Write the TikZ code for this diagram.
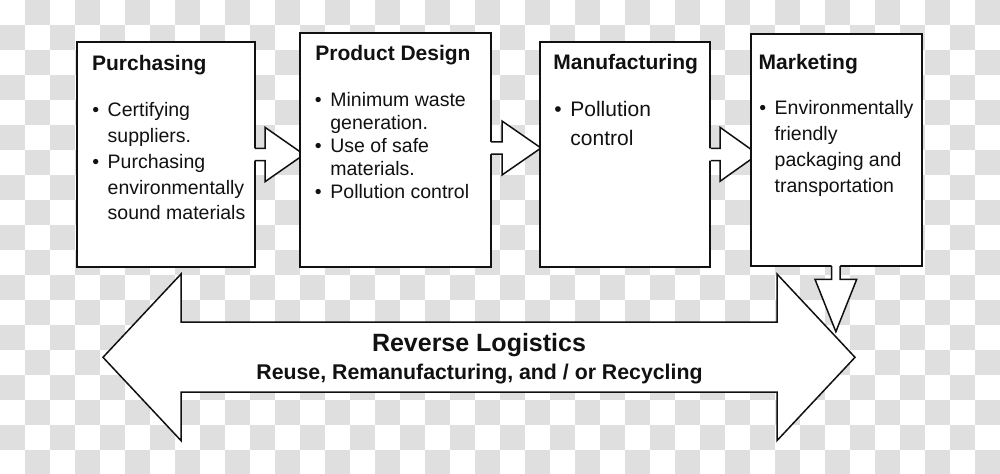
\documentclass[tikz,border=0pt]{standalone}
\usepackage{fontspec}
\setmainfont{Liberation Sans}
\definecolor{chk}{HTML}{DFDFDF}
\definecolor{ink}{HTML}{111111}
\newcommand\mybul{\llap{\textbullet\hspace{4.3pt}}}
\begin{document}
\begin{tikzpicture}[x=0.5pt,y=-0.5pt,
  box/.style={draw=ink, line width=1pt, fill=white, inner sep=0pt},
  blk/.style={draw=ink, line width=0.75pt, line join=miter},
  ttl/.style={font=\fontsize{10.5}{12}\selectfont\bfseries, anchor=base west, inner sep=0pt, text=ink},
  bodytxt/.style={anchor=base west, inner sep=0pt, text=ink},
]
\useasboundingbox (0,0) rectangle (1000,473);
\clip (0,0) rectangle (1000,473);
% transparency checkerboard
\fill[white] (0,0) rectangle (1000,473);
\foreach \j in {0,...,18}{\foreach \i in {0,...,39}{%
  \pgfmathtruncatemacro\k{mod(\i+\j,2)}%
  \ifnum\k=1 \fill[chk] (\i*25,\j*25) rectangle ++(25,25);\fi}}

% Purchasing
\node[box, minimum width=89pt, minimum height=112.5pt] (p) at (166,154.5) {};
\node[ttl] (pt) at (91.7,70) {Purchasing};
\node[bodytxt, font=\fontsize{9.75}{12.9}\selectfont] (pl) at (107.3,116.7)
  {\begin{tabular}[t]{@{}l@{}}\mybul Certifying\\ suppliers.\\ \mybul Purchasing\\ environmentally\\ sound materials\end{tabular}};

% arrow 1
\fill[white] (250,148.3) -- (265,148.3) -- (265,127.3) -- (304,154.5) -- (265,181.7) -- (265,160.7) -- (250,160.7) -- cycle;
\draw[blk] (255,148.3) -- (265,148.3) -- (265,127.3) -- (304,154.5) -- (265,181.7) -- (265,160.7) -- (255,160.7);

% Product Design
\node[box, minimum width=95.5pt, minimum height=117pt] (pd) at (395.5,150) {};
\node[ttl] (pdt) at (315,60) {Product Design};
\node[bodytxt, font=\fontsize{9.75}{11.6}\selectfont] (pdl) at (330,106)
  {\begin{tabular}[t]{@{}l@{}}\mybul Minimum waste\\ generation.\\ \mybul Use of safe\\ materials.\\ \mybul Pollution control\end{tabular}};

% arrow 2
\fill[white] (486,141.8) -- (502,141.8) -- (502,121) -- (541,148) -- (502,175) -- (502,154.2) -- (486,154.2) -- cycle;
\draw[blk] (491,141.8) -- (502,141.8) -- (502,121) -- (541,148) -- (502,175) -- (502,154.2) -- (491,154.2);

% Manufacturing
\node[box, minimum width=85pt, minimum height=112.5pt] (m) at (625,154.5) {};
\node[ttl] (mt) at (553,69.5) {Manufacturing};
\node[bodytxt, font=\fontsize{10.5}{14.5}\selectfont] (ml) at (570,116.5)
  {\begin{tabular}[t]{@{}l@{}}\mybul Pollution\\ control\end{tabular}};

% arrow 3
\fill[white] (706,148.3) -- (720,148.3) -- (720,127.3) -- (758,154.3) -- (720,181.3) -- (720,160.7) -- (706,160.7) -- cycle;
\draw[blk] (711,148.3) -- (720,148.3) -- (720,127.3) -- (758,154.3) -- (720,181.3) -- (720,160.7) -- (711,160.7);

% Marketing
\node[box, minimum width=85.5pt, minimum height=116pt] (mk) at (836.5,150) {};
\node[ttl] (mkt) at (758.3,69) {Marketing};
\node[bodytxt, font=\fontsize{9.75}{13.05}\selectfont] (mkl) at (774.3,114)
  {\begin{tabular}[t]{@{}l@{}}\mybul Environmentally\\ friendly\\ packaging and\\ transportation\end{tabular}};

% down arrow from Marketing
\fill[white] (831.7,262) -- (831.7,279.3) -- (815,279.3) -- (835.85,331.7) -- (856.7,279.3) -- (840,279.3) -- (840,262) -- cycle;
\draw[blk] (831.7,266) -- (831.7,279.3) -- (815,279.3) -- (835.85,331.7) -- (856.7,279.3) -- (840,279.3) -- (840,266);

% big double arrow
\draw[blk, fill=white] (103,357.3) -- (181,274) -- (181,322.2) -- (777,322.2) -- (777,274) -- (855,357.3) -- (777,440.6) -- (777,392) -- (181,392) -- (181,440.6) -- cycle;
\node[inner sep=0pt, anchor=base, text=ink, font=\fontsize{12.5}{14}\selectfont\bfseries] (rl) at (479,351) {Reverse Logistics};
\node[inner sep=0pt, anchor=base, text=ink, font=\fontsize{10.65}{12}\selectfont\bfseries] (rr) at (479.5,379.6) {Reuse, Remanufacturing, and / or Recycling};
\end{tikzpicture}
\end{document}
